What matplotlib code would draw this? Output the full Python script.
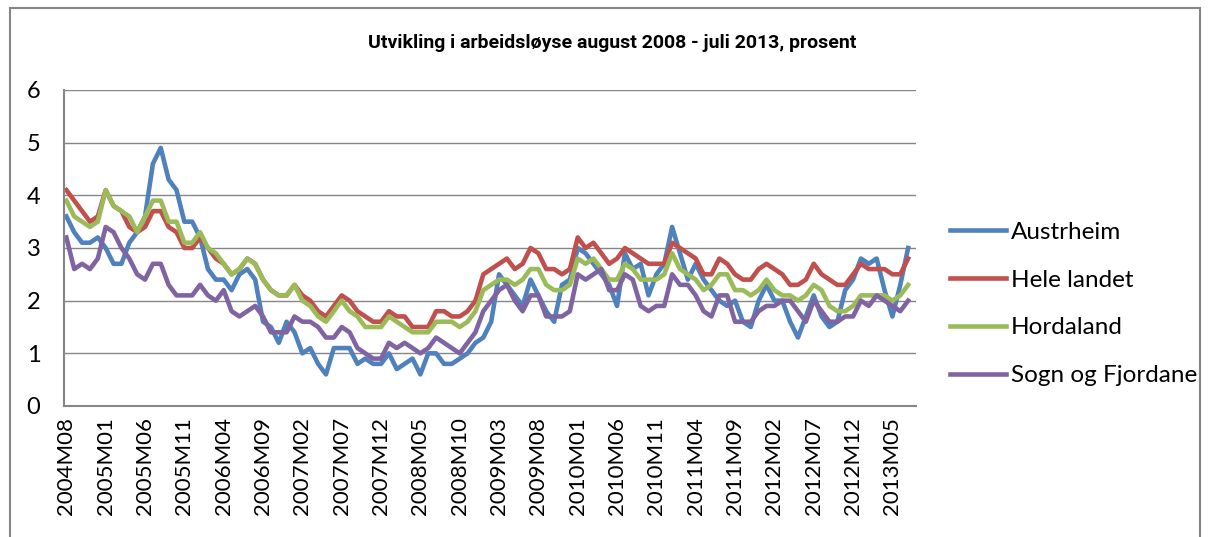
import matplotlib.pyplot as plt
from matplotlib.patches import Rectangle

# month labels, 2004M08 .. 2013M07
months = []
for y in range(2004, 2014):
    for m in range(1, 13):
        if (y == 2004 and m < 8) or (y == 2013 and m > 7):
            continue
        months.append(f"{y}M{m:02d}")

austrheim = [3.6, 3.3, 3.1, 3.1, 3.2, 3.0, 2.7, 2.7, 3.1, 3.3, 3.6, 4.6, 4.9, 4.3, 4.1, 3.5, 3.5, 3.2,
             2.6, 2.4, 2.4, 2.2, 2.5, 2.6, 2.4, 1.6, 1.5, 1.2, 1.6, 1.4, 1.0, 1.1, 0.8, 0.6, 1.1, 1.1,
             1.1, 0.8, 0.9, 0.8, 0.8, 1.0, 0.7, 0.8, 0.9, 0.6, 1.0, 1.0, 0.8, 0.8, 0.9, 1.0, 1.2, 1.3,
             1.6, 2.5, 2.3, 2.1, 1.9, 2.4, 2.1, 1.8, 1.6, 2.3, 2.4, 3.0, 2.9, 2.7, 2.5, 2.3, 1.9, 2.9,
             2.6, 2.7, 2.1, 2.5, 2.7, 3.4, 2.9, 2.4, 2.7, 2.4, 2.2, 2.0, 1.9, 2.0, 1.6, 1.5, 2.0, 2.3,
             2.0, 2.0, 1.6, 1.3, 1.7, 2.1, 1.7, 1.5, 1.6, 2.2, 2.4, 2.8, 2.7, 2.8, 2.2, 1.7, 2.3, 3.0]
hele_landet = [4.1, 3.9, 3.7, 3.5, 3.6, 4.1, 3.8, 3.7, 3.4, 3.3, 3.4, 3.7, 3.7, 3.4, 3.3, 3.0, 3.0, 3.2,
               3.0, 2.8, 2.7, 2.5, 2.6, 2.8, 2.7, 2.4, 2.2, 2.1, 2.1, 2.3, 2.1, 2.0, 1.8, 1.7, 1.9, 2.1,
               2.0, 1.8, 1.7, 1.6, 1.6, 1.8, 1.7, 1.7, 1.5, 1.5, 1.5, 1.8, 1.8, 1.7, 1.7, 1.8, 2.0, 2.5,
               2.6, 2.7, 2.8, 2.6, 2.7, 3.0, 2.9, 2.6, 2.6, 2.5, 2.6, 3.2, 3.0, 3.1, 2.9, 2.7, 2.8, 3.0,
               2.9, 2.8, 2.7, 2.7, 2.7, 3.1, 3.0, 2.9, 2.8, 2.5, 2.5, 2.8, 2.7, 2.5, 2.4, 2.4, 2.6, 2.7,
               2.6, 2.5, 2.3, 2.3, 2.4, 2.7, 2.5, 2.4, 2.3, 2.3, 2.5, 2.7, 2.6, 2.6, 2.6, 2.5, 2.5, 2.8]
hordaland = [3.9, 3.6, 3.5, 3.4, 3.5, 4.1, 3.8, 3.7, 3.6, 3.3, 3.6, 3.9, 3.9, 3.5, 3.5, 3.1, 3.1, 3.3,
             3.0, 2.9, 2.7, 2.5, 2.6, 2.8, 2.7, 2.4, 2.2, 2.1, 2.1, 2.3, 2.0, 1.9, 1.7, 1.6, 1.8, 2.0,
             1.8, 1.7, 1.5, 1.5, 1.5, 1.7, 1.6, 1.5, 1.4, 1.4, 1.4, 1.6, 1.6, 1.6, 1.5, 1.6, 1.8, 2.2,
             2.3, 2.4, 2.4, 2.3, 2.4, 2.6, 2.6, 2.3, 2.2, 2.2, 2.3, 2.8, 2.7, 2.8, 2.6, 2.4, 2.4, 2.7,
             2.6, 2.4, 2.4, 2.4, 2.5, 2.9, 2.6, 2.5, 2.4, 2.2, 2.3, 2.5, 2.5, 2.2, 2.2, 2.1, 2.2, 2.4,
             2.2, 2.1, 2.1, 2.0, 2.1, 2.3, 2.2, 1.9, 1.8, 1.8, 1.9, 2.1, 2.1, 2.1, 2.1, 2.0, 2.1, 2.3]
sogn_fjordane = [3.2, 2.6, 2.7, 2.6, 2.8, 3.4, 3.3, 3.0, 2.8, 2.5, 2.4, 2.7, 2.7, 2.3, 2.1, 2.1, 2.1, 2.3,
                 2.1, 2.0, 2.2, 1.8, 1.7, 1.8, 1.9, 1.7, 1.4, 1.4, 1.4, 1.7, 1.6, 1.6, 1.5, 1.3, 1.3, 1.5,
                 1.4, 1.1, 1.0, 0.9, 0.9, 1.2, 1.1, 1.2, 1.1, 1.0, 1.1, 1.3, 1.2, 1.1, 1.0, 1.2, 1.4, 1.8,
                 2.0, 2.2, 2.3, 2.0, 1.8, 2.1, 2.1, 1.7, 1.7, 1.7, 1.8, 2.5, 2.4, 2.5, 2.6, 2.2, 2.2, 2.5,
                 2.4, 1.9, 1.8, 1.9, 1.9, 2.5, 2.3, 2.3, 2.1, 1.8, 1.7, 2.1, 2.1, 1.6, 1.6, 1.6, 1.8, 1.9,
                 1.9, 2.0, 2.0, 1.8, 1.6, 2.0, 1.8, 1.6, 1.6, 1.7, 1.7, 2.0, 1.9, 2.1, 2.0, 1.9, 1.8, 2.0]

series = [("Austrheim", austrheim, "#4F81BD"),
          ("Hele landet", hele_landet, "#C0504D"),
          ("Hordaland", hordaland, "#9BBB59"),
          ("Sogn og Fjordane", sogn_fjordane, "#8064A2")]

plt.rcParams['font.family'] = ['Lato', 'DejaVu Sans']

fig = plt.figure(figsize=(12.08, 5.37), dpi=100)
ax = fig.add_axes([64 / 1208, 1 - 406 / 537, (916 - 64) / 1208, (406 - 90) / 537])

x = list(range(len(months)))
for name, vals, col in series:
    ax.plot(x, vals, color=col, lw=3.3, label=name, solid_joinstyle='round')

ax.set_ylim(0, 6)
ax.set_xlim(-0.3, 108.0)
ax.set_yticks(range(7))
ax.set_xticks(x[::5])
ax.set_xticklabels(months[::5], rotation=90, fontsize=16)
ax.tick_params(axis='y', length=0, pad=17, labelsize=17)
ax.tick_params(axis='x', length=0, pad=8)
ax.grid(axis='y', color='#868686', lw=1)
ax.set_axisbelow(True)
for s in ['top', 'right']:
    ax.spines[s].set_visible(False)
ax.spines['left'].set_color('#868686')
ax.spines['left'].set_linewidth(1.5)
ax.spines['bottom'].set_color('#868686')
ax.spines['bottom'].set_linewidth(1.5)

fig.text(0.507, 1 - 43 / 537, "Utvikling i arbeidsløyse august 2008 - juli 2013, prosent",
         ha='center', va='center', fontsize=14, fontweight='bold',
         family=['Roboto', 'DejaVu Sans'])

fig.legend(loc='center left', bbox_to_anchor=(928 / 1208, 1 - 304 / 537), frameon=False,
           fontsize=17.5, handlelength=2.3, handletextpad=0.2, labelspacing=1.1)

# outer chart border
fig.add_artist(Rectangle((10 / 1208, -0.05), 1190 / 1208, 1.05 - 8 / 537, transform=fig.transFigure,
                         fill=False, edgecolor='#868686', lw=1.5))

fig.savefig('out.png', dpi=100)
